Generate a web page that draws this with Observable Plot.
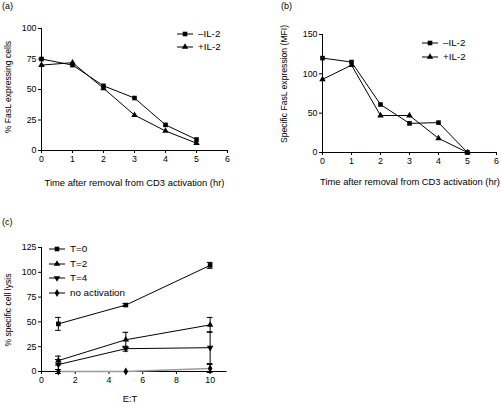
<!DOCTYPE html>
<html><head><meta charset="utf-8">
<script src="https://cdn.jsdelivr.net/npm/d3@7"></script>
<script src="https://cdn.jsdelivr.net/npm/@observablehq/plot@0.6"></script>
<style>
body{margin:0;background:#fff;}
#fig{position:relative;width:501px;height:407px;font-family:"Liberation Sans",Arial,sans-serif;color:#000;overflow:hidden;background:#fff;}
.abs{position:absolute;white-space:nowrap;line-height:1;}
.pnl{position:absolute;}
.ttl{font-size:9.4px;transform:translate(-50%,-50%);}
.ytl{font-size:8.6px;transform:translate(-50%,-50%) rotate(-90deg);}
.plab{font-size:9px;}
.leg{font-size:9.8px;display:flex;align-items:center;}
.leg svg{margin-right:5px;overflow:visible;}
</style></head><body><div id="fig"></div><script>
// ---- data ----
const timesAB = [0, 1, 2, 3, 4, 5];
const seriesAB = ["\u2013IL-2", "+IL-2"];
const fasLPctMinusIL2 = [75, 70, 53, 43, 21, 9];
const fasLPctPlusIL2  = [70, 72, 51, 29, 16, 6];
const mfiMinusIL2 = [120, 115, 61, 37, 38, 0];
const mfiPlusIL2  = [93, 111, 47, 47, 18, 0];

const etRatios = [1, 5, 10];
const seriesC = ["T=0", "T=2", "T=4", "no activation"];
const lysisT0 = [48, 67, 107];
const errT0   = [6.5, 1.5, 3];
const lysisT2 = [11, 32, 47];
const errT2   = [4.5, 7.5, 7.5];
const lysisT4 = [7, 23, 24];
const errT4   = [5, 2.5, 16];
const lysisNoAct = [0, 0, 3];
const errNoAct   = [2, 0, 4];

const ticksTime = [0, 1, 2, 3, 4, 5, 6];
const ticksPct = [0, 25, 50, 75, 100];
const ticksMfi = [0, 50, 100, 150];
const ticksET = [0, 2, 4, 6, 8, 10];
const ticksLysis = [0, 25, 50, 75, 100, 125];

// ---- tables ----
const symbols = {"\u2013IL-2": "square", "+IL-2": "triangle", "T=0": "square", "T=2": "triangle", "T=4": "triangle", "no activation": "diamond"};
const rotations = {"T=4": 180};
function table(xs, series, ys, errs) {
  const out = [];
  series.forEach((s, k) => xs.forEach((x, i) => out.push({x, y: ys[k][i], e: errs ? errs[k][i] : 0, s})));
  return out;
}
const dataA = table(timesAB, seriesAB, [fasLPctMinusIL2, fasLPctPlusIL2]);
const dataB = table(timesAB, seriesAB, [mfiMinusIL2, mfiPlusIL2]);
const dataC = table(etRatios, seriesC, [lysisT0, lysisT2, lysisT4, lysisNoAct], [errT0, errT2, errT4, errNoAct]);

const fig = document.getElementById("fig");

function seriesMarks(data, names, opts = {}) {
  const marks = [];
  for (const n of names) {
    const d = data.filter(r => r.s === n);
    const gray = n === "no activation";
    if (opts.err) {
      const de = d.filter(r => r.e > 0);
      marks.push(Plot.ruleX(de, {x: "x", y1: r => r.y - r.e, y2: r => r.y + r.e, stroke: "#000", strokeWidth: 1}));
      marks.push(Plot.ruleY(de, {y: r => r.y + r.e, x1: r => r.x - 0.17, x2: r => r.x + 0.17, stroke: "#000"}));
      marks.push(Plot.ruleY(de, {y: r => r.y - r.e, x1: r => r.x - 0.17, x2: r => r.x + 0.17, stroke: "#000"}));
    }
    marks.push(Plot.line(d, {x: "x", y: "y", stroke: gray ? "#9a9a9a" : "#000", strokeWidth: gray ? 1.6 : 1}));
    marks.push(Plot.dot(d, {x: "x", y: "y", symbol: () => symbols[n], r: symbols[n] === "square" ? 2.6 : 2.4, fill: "#000", stroke: "none", rotate: rotations[n] || 0}));
  }
  return marks;
}

function panel({left, top, width, height, ml, mr, mt, mb, xDomain, xTicks, yDomain, yTicks, marks}) {
  const p = Plot.plot({
    width, height, marginLeft: ml, marginRight: mr, marginTop: mt, marginBottom: mb,
    style: {fontFamily: '"Liberation Sans", Arial, sans-serif', fontSize: "8.8px", background: "transparent", overflow: "visible", color: "#000"},
    x: {domain: xDomain},
    y: {domain: yDomain},
    marks: [
      Plot.axisX({ticks: xTicks, tickFormat: d3.format("d"), tickSize: 3, tickPadding: 2, label: null, stroke: "#000"}),
      Plot.axisY({ticks: yTicks, tickFormat: d3.format("d"), tickSize: 3, tickPadding: 2, label: null, stroke: "#000"}),
      Plot.ruleX([xDomain[0]], {y1: () => yDomain[0], y2: () => yDomain[1], stroke: "#000"}),
      Plot.ruleY([yDomain[0]], {x1: () => xDomain[0], x2: () => xDomain[1], stroke: "#000"}),
      ...marks
    ]
  });
  p.classList.add("pnl");
  p.style.left = left + "px";
  p.style.top = top + "px";
  fig.appendChild(p);
}

function text(cls, str, x, y) {
  const el = document.createElement("div");
  el.className = "abs " + cls;
  el.textContent = str;
  el.style.left = x + "px";
  el.style.top = y + "px";
  fig.appendChild(el);
}

function legend(left, top, step, names) {
  names.forEach((n, i) => {
    const el = document.createElement("div");
    el.className = "abs leg";
    el.style.left = left + "px";
    el.style.top = (top + i * step - 6) + "px";
    el.style.height = "12px";
    const sym = {square: d3.symbolSquare, triangle: d3.symbolTriangle, diamond: d3.symbolDiamond}[symbols[n]];
    const r = symbols[n] === "square" ? 2.6 : 2.4;
    const path = d3.symbol(sym, Math.PI * r * r)();
    el.innerHTML = `<svg width="16" height="12"><line x1="0" x2="16" y1="6" y2="6" stroke="#000"/><path d="${path}" transform="translate(8,6) rotate(${rotations[n] || 0})" fill="#000"/></svg><span>${n}</span>`;
    fig.appendChild(el);
  });
}

// Panel (a)
panel({left: 0, top: 0, width: 250, height: 200, ml: 41, mr: 23, mt: 28, mb: 50,
  xDomain: [0, 6], xTicks: ticksTime, yDomain: [0, 100], yTicks: ticksPct,
  marks: seriesMarks(dataA, seriesAB)});
// Panel (b)
panel({left: 250, top: 0, width: 251, height: 200, ml: 72, mr: 5, mt: 34, mb: 48,
  xDomain: [0, 6], xTicks: ticksTime, yDomain: [0, 150], yTicks: ticksMfi,
  marks: seriesMarks(dataB, seriesAB)});
// Panel (c)
panel({left: 0, top: 200, width: 250, height: 207, ml: 41, mr: 23.5, mt: 47, mb: 36,
  xDomain: [0, 11], xTicks: ticksET, yDomain: [0, 125], yTicks: ticksLysis,
  marks: seriesMarks(dataC, seriesC, {err: true})});

// titles
text("plab", "(a)", 2, 2);
text("plab", "(b)", 281, 2);
text("plab", "(c)", 2, 218);
text("ttl", "Time after removal from CD3 activation (hr)", 134.5, 183);
text("ttl", "Time after removal from CD3 activation (hr)", 410, 182);
text("ttl", "E:T", 130, 399);
text("ytl", "% FasL expressing cells", 8, 87);
text("ytl", "Specific FasL expression (MFI)", 284, 84);
text("ytl", "% specific cell lysis", 8, 310);

legend(177, 34, 13, seriesAB);
legend(422, 43, 14, seriesAB);
legend(49, 249, 14.5, seriesC);
</script></body></html>
